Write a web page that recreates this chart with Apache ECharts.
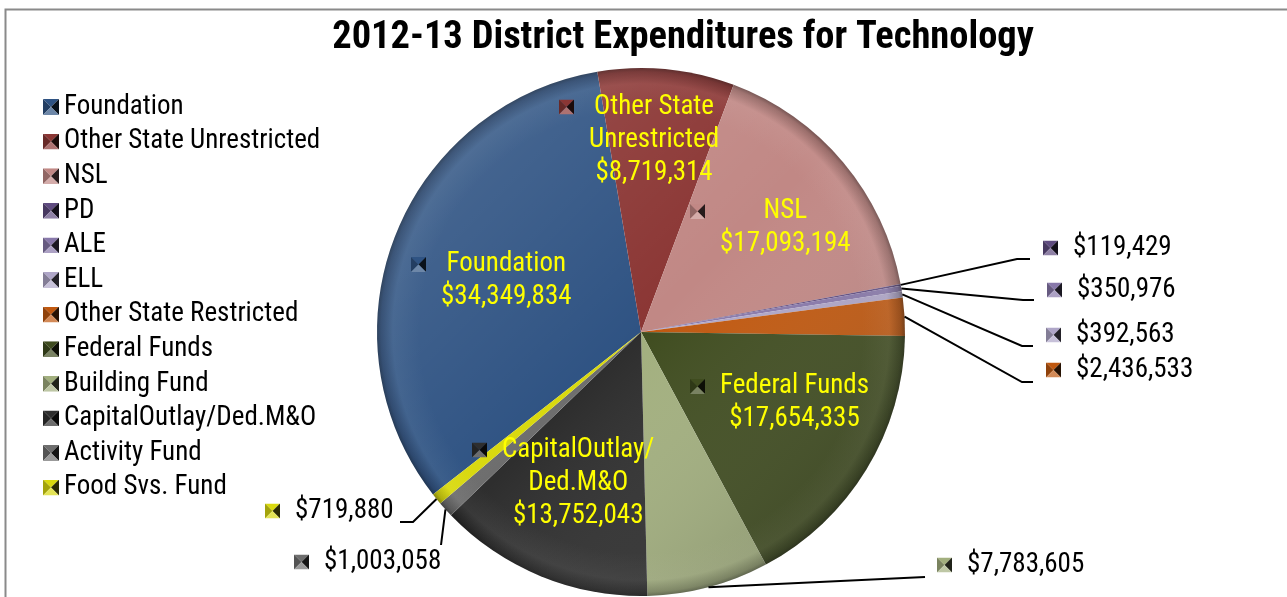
<!DOCTYPE html>
<html>
<head>
<meta charset="utf-8">
<title>2012-13 District Expenditures for Technology</title>
<script src="https://cdn.jsdelivr.net/npm/echarts@6/dist/echarts.min.js"></script>
<style>
  html, body { margin: 0; padding: 0; background: #ffffff; }
  #chart { width: 1287px; height: 597px; }
</style>
</head>
<body>
<div id="chart"></div>
<script>
// Funding sources and their technology spending, in pie order
const categories = [
  'Foundation', 'Other State Unrestricted', 'NSL', 'PD', 'ALE', 'ELL',
  'Other State Restricted', 'Federal Funds', 'Building Fund',
  'CapitalOutlay/Ded.M&O', 'Activity Fund', 'Food Svs. Fund'
];
const amounts = [
  34349834, 8719314, 17093194, 119429, 350976, 392563,
  2436533, 17654335, 7783605, 13752043, 1003058, 719880
];
// Wrapped names used inside the big slices
const sliceNames = [
  'Foundation', 'Other State\nUnrestricted', 'NSL', '', '', '',
  '', 'Federal Funds', '', 'CapitalOutlay/\nDed.M&O', '', ''
];
const colors = [
  '#2F5383', '#8B3634', '#C18885', '#5F4B80', '#8878AA', '#AFA6C8',
  '#C0580F', '#3F4C1F', '#A2AF7E', '#2E2E2E', '#6E6E6E', '#D9D90E'
];

const FONT = '"Roboto Condensed", "Arial Narrow", sans-serif';
const FS = 27;
const CX = 641, CY = 332, R = 264;

// Where each slice's label sits (left edge of key, vertical middle of block)
// and the bend/end of its leader line when it sits outside the pie.
const labelSpots = [
  { x: 411, y: 281 },
  { x: 559, y: 140 },
  { x: 690, y: 228 },
  { x: 1043, y: 248, line: [[1017, 259], [1030, 259]] },
  { x: 1047, y: 290, line: [[1023, 300], [1034, 300]] },
  { x: 1046, y: 335, line: [[1022, 346], [1033, 346]] },
  { x: 1046, y: 370, line: [[1022, 382], [1033, 382]] },
  { x: 690, y: 403 },
  { x: 937, y: 565, line: [[925, 577], [925, 577]] },
  { x: 472, y: 483 },
  { x: 294, y: 562, line: [[441, 545], [441, 545]] },
  { x: 265, y: 511, line: [[413, 522], [400, 522]] }
];

function hexToRgb(h) {
  const n = parseInt(h.slice(1), 16);
  return [(n >> 16) & 255, (n >> 8) & 255, n & 255];
}
function mix(hex, target, t) {
  const a = hexToRgb(hex), b = hexToRgb(target);
  const c = a.map((v, i) => Math.round(v + (b[i] - v) * t));
  return 'rgb(' + c.join(',') + ')';
}
function money(v) { return '$' + v.toLocaleString('en-US'); }

// Bevelled legend key: four triangles meeting at the middle
function keyIcon(hex) {
  const top = hex, left = mix(hex, '#000000', 0.25);
  const right = mix(hex, '#000000', 0.8), bottom = mix(hex, '#ffffff', 0.3);
  const svg = "<svg xmlns='http://www.w3.org/2000/svg' width='16' height='16'>" +
    "<polygon points='0,0 16,0 8,8' fill='" + top + "'/>" +
    "<polygon points='0,0 8,8 0,16' fill='" + left + "'/>" +
    "<polygon points='16,0 16,16 8,8' fill='" + right + "'/>" +
    "<polygon points='0,16 16,16 8,8' fill='" + bottom + "'/></svg>";
  return 'data:image/svg+xml;charset=utf-8,' + encodeURIComponent(svg);
}
const icons = colors.map(keyIcon);

const ctx = document.createElement('canvas').getContext('2d');
function measure(s) { ctx.font = FS + 'px ' + FONT; return ctx.measureText(s).width; }

// Flat slice colour with a soft rounded rim
function sliceFill(hex) {
  return {
    type: 'radial', x: CX, y: CY, r: R, global: true,
    colorStops: [
      { offset: 0, color: hex },
      { offset: 0.84, color: hex },
      { offset: 0.94, color: mix(hex, '#ffffff', 0.05) },
      { offset: 0.985, color: mix(hex, '#000000', 0.2) },
      { offset: 1, color: mix(hex, '#000000', 0.4) }
    ]
  };
}

function labelFor(i) {
  const base = {
    ic: { width: 15, height: 15, backgroundColor: { image: icons[i] } },
    g: { width: 15 },
    b: { width: 30 }
  };
  if (sliceNames[i]) {
    const lines = sliceNames[i].split('\n').concat([money(amounts[i])]);
    const widths = lines.map(measure);
    const W = Math.max.apply(null, widths);
    const rich = Object.assign({}, base, {
      t: { color: '#FFFF00', fontSize: FS, fontFamily: FONT, lineHeight: 33 }
    });
    const text = lines.map((ln, k) => {
      const pad = (W - widths[k]) / 2;
      let s = k === 0 ? '{ic| }{g| }' : '{b| }';
      if (pad > 0.5) { rich['s' + k] = { width: pad }; s += '{s' + k + '| }'; }
      return s + '{t|' + ln + '}';
    }).join('\n');
    return { label: { show: true, position: 'inside', formatter: () => text, rich }, labelLine: { show: false } };
  }
  const rich = Object.assign({}, base, {
    t: { color: '#000000', fontSize: FS, fontFamily: FONT, lineHeight: 33 }
  });
  const text = '{ic| }{g| }{t|' + money(amounts[i]) + '}';
  return {
    label: { show: true, position: 'outside', formatter: () => text, rich },
    labelLine: { show: true, lineStyle: { color: '#000000', width: 2 } }
  };
}

const pieBase = {
  type: 'pie',
  center: [CX, CY],
  radius: R,
  startAngle: 218,
  clockwise: true,
  avoidLabelOverlap: false,
  animation: false,
  silent: true
};

const chart = echarts.init(document.getElementById('chart'), null, { renderer: 'canvas' });
chart.setOption({
  backgroundColor: '#ffffff',
  animation: false,
  graphic: [
    {
      type: 'rect', silent: true, z: -10,
      shape: { x: 5.5, y: 9.5, width: 1400, height: 700 },
      style: { fill: 'none', stroke: '#8a8a8a', lineWidth: 2 }
    },
    {
      type: 'text', silent: true, x: 683, y: 38,
      style: {
        text: '2012-13 District Expenditures for Technology',
        font: 'bold 38.5px ' + FONT, fill: '#000000',
        textAlign: 'center', textVerticalAlign: 'middle'
      }
    }
  ],
  legend: {
    orient: 'vertical', left: 38, top: 87,
    itemWidth: 16, itemHeight: 16, itemGap: 4.6, itemTextGap: 7,
    selectedMode: false,
    textStyle: { fontFamily: FONT, fontSize: FS, color: '#000000', lineHeight: 30 },
    data: categories.map((n, i) => ({ name: n, icon: 'image://' + icons[i] }))
  },
  series: [
    Object.assign({}, pieBase, {
      name: 'slices', z: 2,
      label: { show: false }, labelLine: { show: false },
      data: categories.map((n, i) => ({
        name: n, value: amounts[i],
        itemStyle: { color: sliceFill(colors[i]), borderWidth: 0 }
      }))
    }),
    // Light from the upper left, shadow towards the lower right
    Object.assign({}, pieBase, {
      name: 'shade', z: 3,
      label: { show: false }, labelLine: { show: false },
      data: [{
        name: 'shade', value: 1,
        itemStyle: {
          borderWidth: 0,
          color: {
            type: 'linear', x: 0, y: 0, x2: 1, y2: 1,
            colorStops: [
              { offset: 0, color: 'rgba(255,255,255,0.16)' },
              { offset: 0.5, color: 'rgba(255,255,255,0)' },
              { offset: 1, color: 'rgba(0,0,0,0.3)' }
            ]
          }
        }
      }]
    }),
    Object.assign({}, pieBase, {
      name: 'labels', z: 4,
      data: categories.map((n, i) => Object.assign({
        name: n, value: amounts[i],
        itemStyle: { color: 'rgba(0,0,0,0)', borderWidth: 0 }
      }, labelFor(i))),
      labelLayout: function (params) {
        const s = labelSpots[params.dataIndex];
        const out = { x: s.x, y: s.y, align: 'left', verticalAlign: 'middle' };
        if (s.line && params.labelLinePoints) {
          out.labelLinePoints = [params.labelLinePoints[0], s.line[0], s.line[1]];
        }
        return out;
      }
    })
  ]
});
</script>
</body>
</html>
